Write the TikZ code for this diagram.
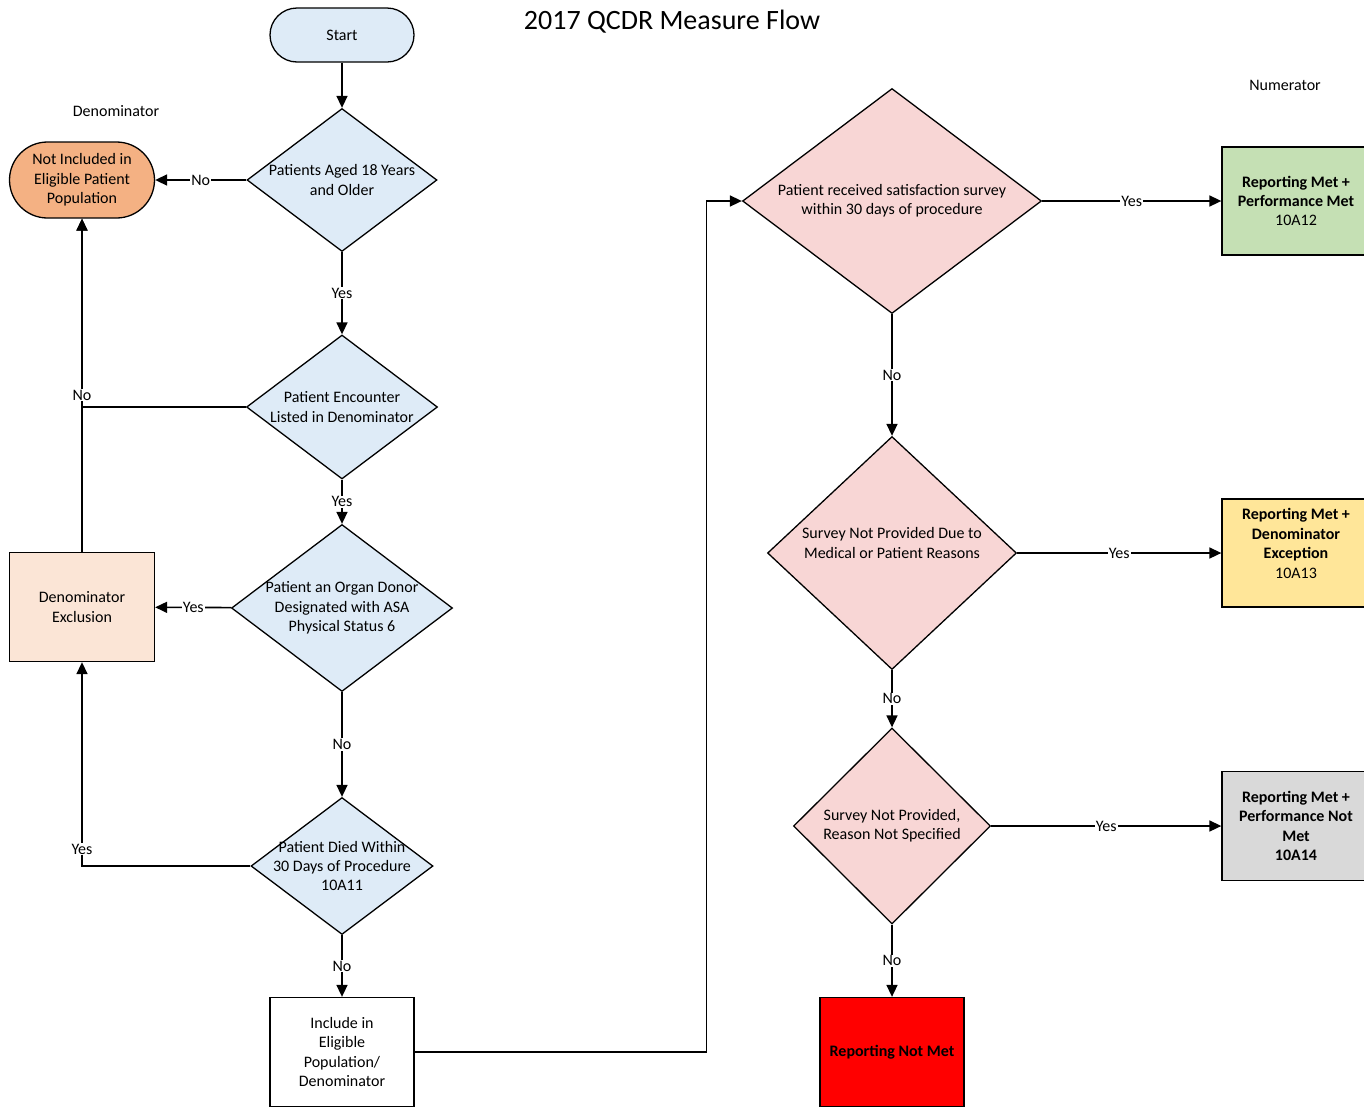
\documentclass[tikz,border=0pt]{standalone}
\usepackage{fontspec}
\setmainfont{Carlito}
\usetikzlibrary{arrows.meta,positioning,shapes.geometric}
\definecolor{qblue}{HTML}{DEEBF7}
\definecolor{qpink}{HTML}{F8D6D5}
\definecolor{qorange}{HTML}{F4B183}
\definecolor{qpeach}{HTML}{FBE5D6}
\definecolor{qgreen}{HTML}{C5E0B4}
\definecolor{qyellow}{HTML}{FFE699}
\definecolor{qgray}{HTML}{D9D9D9}

\begin{document}
\begin{tikzpicture}[
  x=1pt,y=-1pt,
  font=\fontsize{16}{19.4}\selectfont,
  term/.style={rectangle,draw,line width=1.3pt,align=center},
  dia/.style={diamond,draw,line width=1.3pt,inner sep=0pt},
  txt/.style={align=center,inner sep=0pt},
  box/.style={rectangle,draw,line width=1.3pt,align=center,inner sep=2pt,minimum width=144pt,minimum height=109pt},
  res/.style={box,font=\fontsize{16}{19.4}\selectfont\bfseries},
  edge/.style={res,minimum width=148pt,xshift=2pt},
  lbl/.style={fill=white,inner sep=1pt},
  flow/.style={-{Triangle[length=12pt,width=11pt]},line width=1.6pt}
]
\useasboundingbox (0,0) rectangle (1364,1109);
\node[font=\fontsize{28}{32}\selectfont] (title) at (672,22) {2017 QCDR Measure Flow};
\node (denlab) at (116,111) {Denominator};
\node (numlab) at (1285,85) {Numerator};
% denominator side
\node[term,rounded corners=27pt,fill=qblue,minimum width=144pt,minimum height=54pt] (start) at (342,35) {Start};
\node[dia,fill=qblue,minimum width=190pt,minimum height=143pt,
  label={[txt]center:{Patients Aged 18 Years\\and Older}}] (age) at (342,180) {};
\node[dia,fill=qblue,minimum width=191pt,minimum height=144pt,
  label={[txt]center:{Patient Encounter\\Listed in Denominator}}] (enc) at (342,407) {};
\node[dia,fill=qblue,minimum width=221pt,minimum height=167pt,
  label={[txt]center:{Patient an Organ Donor\\Designated with ASA\\Physical Status 6}}] (donor) at (342,608) {};
\node[dia,fill=qblue,minimum width=182pt,minimum height=137pt,
  label={[txt]center:{Patient Died Within\\30 Days of Procedure\\10A11}}] (died) at (342,866) {};
\node[box,fill=white] (incl) at (342,1052) {Include in\\Eligible\\Population/\\Denominator};
\node[term,rounded corners=38pt,fill=qorange,minimum width=145pt,minimum height=76pt] (notinc) at (82,180) {Not Included in\\Eligible Patient\\Population};
\node[box,fill=qpeach,minimum width=145pt] (dexcl) at (82,607) {Denominator\\Exclusion};
% numerator side
\node[dia,fill=qpink,minimum width=299pt,minimum height=225pt,
  label={[txt]center:{Patient received satisfaction survey\\within 30 days of procedure}}] (survey) at (892,201) {};
\node[dia,fill=qpink,minimum width=249pt,minimum height=233pt,
  label={[txt,yshift=10pt]center:{Survey Not Provided Due to\\Medical or Patient Reasons}}] (reason) at (892,553) {};
\node[dia,fill=qpink,minimum width=197pt,minimum height=196pt,
  label={[txt]center:{Survey Not Provided,\\Reason Not Specified}}] (nospec) at (892,826) {};
\node[res,fill=red] (notmet) at (892,1052) {Reporting Not Met};
\node[edge,fill=qgreen,minimum height=108pt] (pmet) at (1294,201) {Reporting Met +\\Performance Met\\\mdseries 10A12};
\node[edge,fill=qyellow,minimum height=108pt] (dexc) at (1294,553) {Reporting Met +\\Denominator\\Exception\\\mdseries 10A13\\\mbox{}};
\node[edge,fill=qgray] (pnot) at (1294,826) {Reporting Met +\\Performance Not\\Met\\10A14};
% connectors
\draw[flow] (start) -- (age);
\draw[flow] (age) -- node[lbl]{No} (notinc);
\draw[flow] (age) -- node[lbl]{Yes} (enc);
\draw[flow] (dexcl) -- (notinc);
\draw[flow] (enc.west) -| node[lbl,pos=0.5,yshift=12pt]{No} (notinc.south);
\draw[flow] (enc) -- node[lbl]{Yes} (donor);
\draw[flow] (donor) -- node[lbl]{Yes} (dexcl);
\draw[flow] (donor) -- node[lbl]{No} (died);
\draw[flow] (died.west) -| node[lbl,pos=0.5,yshift=17pt]{Yes} (dexcl.south);
\draw[flow] (died) -- node[lbl]{No} (incl);
\draw[flow] (incl.east) -- ++(292,0) |- (survey.west);
\draw[flow] (survey) -- node[lbl]{Yes} (pmet);
\draw[flow] (survey) -- node[lbl]{No} (reason);
\draw[flow] (reason) -- node[lbl]{Yes} (dexc);
\draw[flow] (reason) -- node[lbl]{No} (nospec);
\draw[flow] (nospec) -- node[lbl]{Yes} (pnot);
\draw[flow] (nospec) -- node[lbl]{No} (notmet);
\end{tikzpicture}
\end{document}
